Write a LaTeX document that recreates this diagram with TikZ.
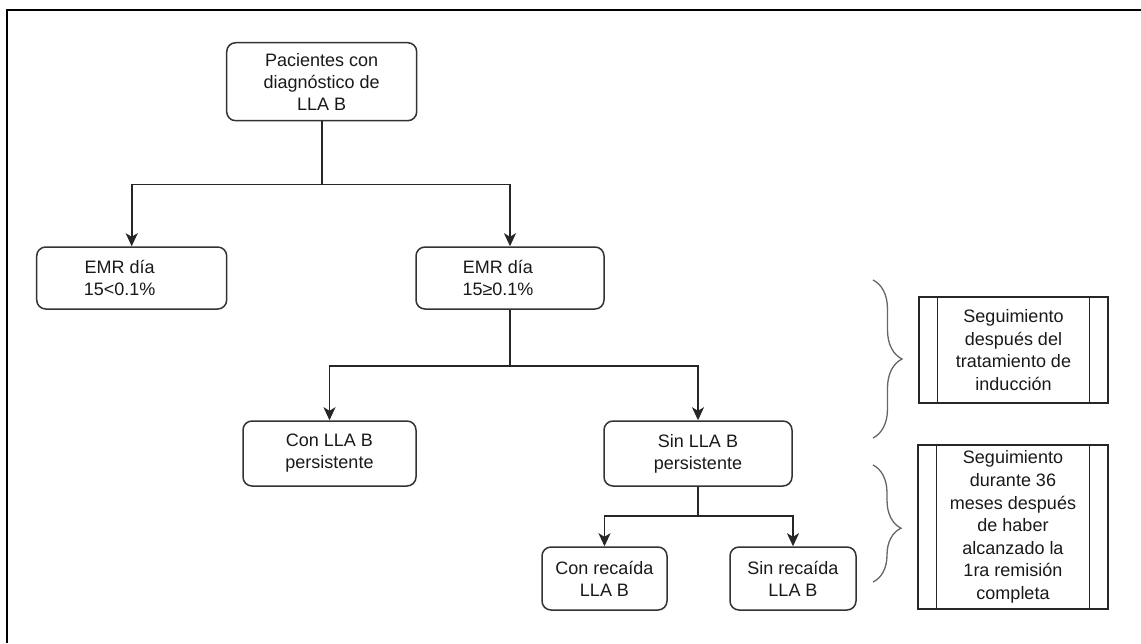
\documentclass[tikz,border=0pt]{standalone}
\usepackage{fontspec}
\setmainfont{Liberation Sans}
\usetikzlibrary{arrows.meta,decorations.pathreplacing}
\begin{document}
\begin{tikzpicture}[x=1pt,y=-1pt,
  rbox/.style={draw=black!80, line width=1.5pt, rounded corners=9pt, align=center, inner sep=0pt,
    font=\fontsize{18}{22}\selectfont, text=black!90},
  pbox/.style={draw=black!85, line width=1.3pt, align=center, inner sep=0pt,
    font=\fontsize{18}{22.6}\selectfont, text=black!90},
  conn/.style={draw=black!85, line width=1.7pt},
  arr/.style={conn, -{Stealth[length=13pt,width=12pt,inset=3.5pt]}},
  brc/.style={draw=black!60, line width=1.3pt, decorate}
]
\useasboundingbox (0,0) rectangle (1141,643);
% outer frame (partly visible)
\draw[line width=1.8pt] (7,643) -- (7,10) -- (1141,10);

\node[rbox, minimum width=190pt, minimum height=78pt] (top) at (321.7,81.7)
  {Pacientes con\\diagnóstico de\\LLA B};
\node[rbox, minimum width=190pt, minimum height=62pt] (emr1) at (131.7,278)
  {EMR día\hspace*{24pt}\\15<0.1\%\hspace*{24pt}};
\node[rbox, minimum width=188pt, minimum height=62pt] (emr2) at (510,278)
  {EMR día\hspace*{24pt}\\15≥0.1\%\hspace*{24pt}};
\node[rbox, minimum width=173pt, minimum height=65pt] (con) at (329.5,453.5)
  {Con LLA B\\persistente};
\node[rbox, minimum width=188pt, minimum height=65pt] (sin) at (698,453.5)
  {Sin LLA B\\persistente};
\node[rbox, minimum width=125pt, minimum height=63pt] (conr) at (604.5,578.5)
  {Con recaída\\LLA B};
\node[rbox, minimum width=126pt, minimum height=63pt] (sinr) at (793,578.5)
  {Sin recaída\\LLA B};

\node[pbox, minimum width=189pt, minimum height=106pt] (seg1) at (1013.5,350)
  {Seguimiento\\después del\\tratamiento de\\inducción};
\node[pbox, minimum width=190pt, minimum height=164pt] (seg2) at (1013,527)
  {Seguimiento\\durante 36\\meses después\\de haber\\alcanzado la\\1ra remisión\\completa};
\foreach \b in {seg1,seg2}{
  \draw[black!85, line width=1.3pt] ([xshift=19pt]\b.north west) -- ([xshift=19pt]\b.south west);
  \draw[black!85, line width=1.3pt] ([xshift=-19pt]\b.north east) -- ([xshift=-19pt]\b.south east);
}

% connectors
\draw[conn] (top.south) -- ++(0,63) coordinate (j1);
\draw[arr] (j1) -| (emr1.north);
\draw[arr] (j1) -| (emr2.north);
\draw[conn] (emr2.south) -- ++(0,56) coordinate (j2);
\draw[arr] (j2) -| (con.north);
\draw[arr] (j2) -| (sin.north);
\draw[conn] (sin.south) -- ++(0,29) coordinate (j3);
\draw[arr] (j3) -| (conr.north);
\draw[arr] (j3) -| (sinr.north);

% braces
\coordinate (b1a) at (873,280);
\coordinate (b1b) at (873,438);
\coordinate (b2a) at (873,465);
\coordinate (b2b) at (873,582);
\draw[brc, decoration={brace, amplitude=29pt}] (b1a) -- (b1b);
\draw[brc, decoration={brace, amplitude=28pt, aspect=0.54}] (b2a) -- (b2b);
\end{tikzpicture}
\end{document}
